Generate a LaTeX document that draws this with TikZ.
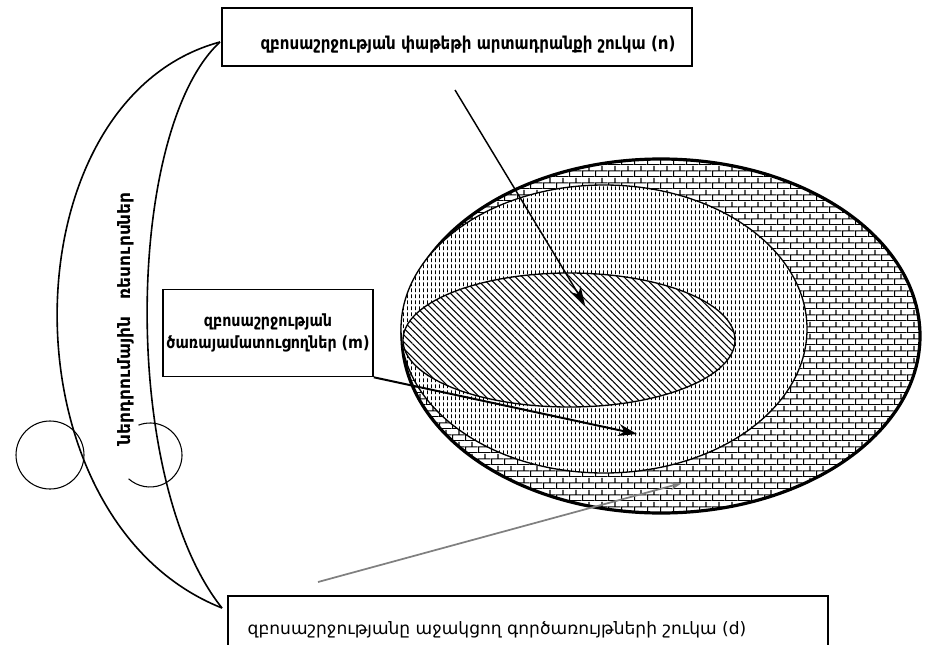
\documentclass[tikz,border=0pt]{standalone}
\usepackage{fontspec}
\setmainfont{DejaVu Sans}
\newfontfamily\armcond[FakeStretch=0.85]{DejaVu Sans}
\usetikzlibrary{shapes.geometric,patterns.meta,arrows.meta}

\pgfdeclarepattern{name=bricktile, type=uncolored,
  bottom left={\pgfpoint{0pt}{0pt}}, top right={\pgfpoint{10pt}{9pt}},
  tile size={\pgfpoint{10pt}{9pt}},
  code={\pgfsetlinewidth{0.8pt}
    \pgfpathmoveto{\pgfpoint{0pt}{0.4pt}}\pgfpathlineto{\pgfpoint{10pt}{0.4pt}}
    \pgfpathmoveto{\pgfpoint{0pt}{4.9pt}}\pgfpathlineto{\pgfpoint{10pt}{4.9pt}}
    \pgfpathmoveto{\pgfpoint{0.5pt}{0.4pt}}\pgfpathlineto{\pgfpoint{0.5pt}{4.9pt}}
    \pgfpathmoveto{\pgfpoint{5.5pt}{4.9pt}}\pgfpathlineto{\pgfpoint{5.5pt}{9pt}}
    \pgfusepath{stroke}}}
\pgfdeclarepattern{name=vdashes, type=uncolored,
  bottom left={\pgfpoint{0pt}{0pt}}, top right={\pgfpoint{2.6pt}{4.6pt}},
  tile size={\pgfpoint{2.6pt}{4.6pt}},
  code={\pgfsetlinewidth{0.45pt}
    \pgfpathmoveto{\pgfpoint{1.3pt}{0.7pt}}\pgfpathlineto{\pgfpoint{1.3pt}{3.9pt}}
    \pgfusepath{stroke}}}

\begin{document}
\begin{tikzpicture}[x=0.75pt, y=0.75pt, >={Stealth[length=14pt, width=9pt]},
  framebox/.style={draw, line width=1.2pt, inner sep=0pt},
  boldtext/.style={font=\armcond\bfseries\fontsize{13.3}{16}\selectfont, align=center},
  plaintext/.style={font=\fontsize{12.8}{15}\selectfont},
  oval/.style={ellipse, draw, inner sep=0pt, preaction={fill=white}},
  pointer/.style={->, line width=1.1pt}]
  \useasboundingbox (0,0) rectangle (937,644);

  % market ovals
  \node[oval, line width=2.4pt, pattern=bricktile, minimum width=388.5pt, minimum height=265.5pt] (supportoval) at (661,308) {};
  \node[oval, line width=1pt, pattern=vdashes, minimum width=304.5pt, minimum height=216pt] (serviceoval) at (604,315) {};
  \node[oval, line width=1pt, pattern={Lines[angle=-45, distance=3.6pt, line width=0.8pt]}, minimum width=249pt, minimum height=100.5pt] (packageoval) at (569,304) {};

  % boxes
  \node[framebox, line width=1.6pt, minimum width=352.5pt, minimum height=43.5pt] (packagebox) at (457,607) {};
  \node[boldtext] (packagelabel) at (468,599) {զբոսաշրջության փաթեթի արտադրանքի շուկա (n)};
  \node[framebox, boldtext, font=\armcond\bfseries\fontsize{12.6}{16}\selectfont, minimum width=157.5pt, minimum height=65.25pt] (servicebox) at (268,311) {զբոսաշրջության\\ծառայամատուցողներ (m)};
  \node[plaintext] (supportlabel) at (497,14) {զբոսաշրջությանը աջակցող գործառույթների շուկա (d)};
  \begin{scope}
    \clip (0,0) rectangle (937,644);
    \node[framebox, minimum width=450pt, minimum height=48pt] (supportbox) at (528,16) {};
  \end{scope}

  % resources
  \coordinate (lenstop) at (220,602);
  \coordinate (lensbot) at (222,36);
  \draw[line width=1.2pt] (lenstop) .. controls (5,544) and (0,124) .. (lensbot);
  \draw[line width=1.2pt] (lenstop) .. controls (125,514) and (120,164) .. (lensbot);
  \node[font=\bfseries\fontsize{12.8}{16}\selectfont, rotate=90] (resourcelabel) at (126,325) {ներդրումային\quad ռեսուրսներ};
  \node[circle, draw, line width=0.8pt, minimum size=51pt] (leftring) at (50,189) {};
  \coordinate (rightring) at (150,189);
  \draw[line width=0.8pt] (rightring) ++(111:24pt) arc[start angle=111, end angle=-132, radius=24pt];

  % pointers
  \coordinate (packagetail) at (455,554);
  \coordinate (packagetip) at (585,339);
  \draw[pointer] (packagetail) -- (packagetip);
  \coordinate (servicetip) at (637,210);
  \draw[pointer, line width=1.5pt] (servicebox.south east) -- (servicetip);
  \coordinate (supporttail) at (318,62);
  \coordinate (supporttip) at (682,161);
  \draw[pointer, -{Stealth[length=9pt, width=6pt]}, draw=gray, line width=1.3pt] (supporttail) -- (supporttip);
\end{tikzpicture}
\end{document}
